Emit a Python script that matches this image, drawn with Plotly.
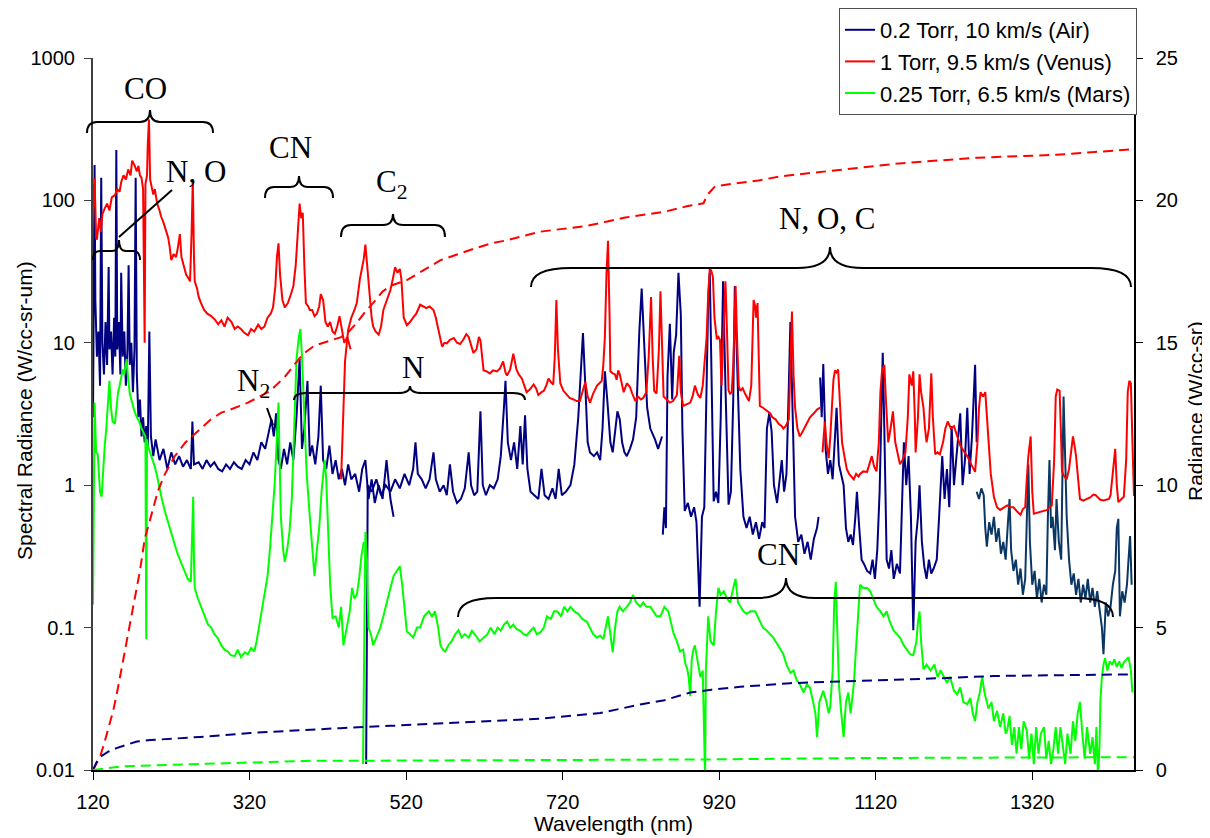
import plotly.graph_objects as go

# ---------------- DATA (wavelength nm, spectral radiance W/cc-sr-um) ----------------
air_seg1 = [(120,3),(121,40),(122,177),(123,20),(125,8),(127,12),(129,5),(130.5,144),(132,10),(134,6),(136,14),
            (138,7),(140,34),(141,9),(143,12),(145,6),(147,15),(148.5,8),(149.8,226),(151,9),(153,14),(155,6),
            (156,31),(158,8),(160,12),(162,5),(164,9),(165.5,35),(167,7),(169,10),(171,4.5),(173,9),(174.5,144),
            (176,6),(178,3),(180,4),(182,2.2),(184,3),(186,2),(188,2.6),(190,1.8),(192,12),(194,2.2),(197,1.6),
            (200,2.1),(205,1.5),(210,1.8),(215,1.3),(220,1.7),(225,1.4),(230,1.6),(235,1.35),(240,1.5),(245,1.3),
            (247,2.8),(249,1.4),(255,1.45),(260,1.3),(265,1.5),(270,1.35),(275,1.45),(280,1.3),(285,1.25),(290,1.4),
            (295,1.3),(300,1.45),(305,1.35),(310,1.3),(315,1.5),(320,1.4),(325,1.7),(330,1.5),(335,2.0),(340,1.8),
            (345,2.4),(348,2.9),(351,2.2),(354,3.2),(357,1.5),(360,1.3),(364,1.8),(368,1.4),(372,2.0),(376,1.5),
            (380,3),(384,7.7),(387,1.8),(390,2.5),(394,5.4),(397,1.6),(400,1.9),(404,1.4),(408,2.2),(411,5),
            (414,1.5),(418,1.3),(422,1.9),(426,1.2),(430,1.5),(434,1.1),(438,1.3),(442,1.0),(446,1.4),(450,1.1),
            (455,1.2),(460,0.9),(464,1.3),(468,1.5),(472,0.8),(476,1.1),(480,0.75),(485,1.0),(490,0.8),(495,1.5),
            (500,0.8),(504,0.6)]
air_seg2 = [(469,0.011),(470,0.3),(471,1.0),(476,0.9),(482,1.1),(488,0.85),(494,1.0),(500,0.9),(506,1.1),(512,0.95),
            (518,1.2),(524,1.0),(529,1.3),(532,2.0),(535,1.2),(540,1.1),(545,0.95),(550,1.1),(555,1.7),(558,1.1),
            (563,0.9),(568,1.0),(572,0.85),(576,1.4),(580,0.9),(585,0.75),(590,0.8),(595,0.95),(600,1.7),(603,1.0),
            (607,0.85),(611,0.9),(615,3.3),(618,1.0),(622,0.85),(627,1.0),(632,0.95),(637,1.1),(641,1.6),(645,3.5),
            (647,5.4),(650,2.0),(654,1.5),(658,2.0),(662,1.3),(666,2.6),(669,1.4),(672,3.1),(675,1.3),(679,0.9),
            (684,0.85),(689,0.8),(693,1.3),(697,0.85),(702,0.8),(707,0.95),(711,0.8),(715,1.3),(719,0.85),(724,0.9),
            (730,1.0),(735,1.4),(740,3.0),(744,8),(746,11.7),(749,5),(752,2.0),(755,1.7),(760,1.6),(764,1.7),
            (768,1.5),(771,2.5),(774,6.3),(777,4),(781,2.0),(784,1.7),(787,2.5),(790,3.3),(793,2.9),(796,2.0),
            (799,1.7),(802,1.6),(806,1.8),(810,2.1),(814,3),(818,12),(821,24),(824,10),(828,3.5),(832,2.5),
            (835,2.3),(838,2.1),(842,1.8),(847,2.2)]
air_seg3 = [(848,0.45),(850,0.7),(852,0.5),(854,5.8),(857,13.6),(860,4),(862,8.6),(865,11.3),(868,31),(871,15.8),
            (873,2.5),(876,0.66),(880,0.75),(884,0.6),(888,0.7),(891,0.55),(895,0.14),(898,0.6),(901,0.7),(904,5),
            (906,20),(908,31),(910,8),(913,0.77),(916,0.9),(919,0.75),(922,3),(925,27),(928,5),(932,0.73),(935,0.9),
            (938,4),(940,25),(943,6),(947,1.3),(951,0.6),(955,0.5),(959,0.6),(963,0.45),(967,0.55),(971,0.42),
            (975,0.55),(978,0.5),(981,2.5),(984,3.2),(987,2.4),(990,1.0),(994,0.75),(997,1.1),(1000,1.5),(1003,0.9),
            (1006,1.2),(1009,5),(1011,14),(1014,3),(1017,0.6),(1021,0.4),(1025,0.45),(1029,0.33),(1033,0.4),
            (1037,0.3),(1041,0.42),(1045,0.5),(1047,0.6)]
air_seg4 = [(1049,5.7),(1051,3),(1053,7.1),(1056,1.8),(1059,1.2),(1062,1.5),(1065,1.1),(1068,2.5),(1070,3.5),(1073,1.4),
            (1076,1.2),(1079,1.0),(1082,0.5),(1085,0.4),(1088,0.45),(1091,0.38),(1094,0.6),(1096,0.9),(1099,0.5),
            (1102,0.3),(1105,0.28),(1109,0.25),(1113,0.24),(1116,0.3),(1119,0.22),(1122,0.35),(1125,0.9),(1127,3),
            (1129,8.5),(1131,2.5),(1134,0.3),(1137,0.26),(1140,0.35),(1143,0.22),(1147,0.28),(1151,0.24),(1154,0.7),
            (1156,2.0),(1159,1.0),(1162,1.6),(1165,0.6),(1168,0.096),(1171,0.4),(1174,0.6),(1176,1.0),(1179,0.4),
            (1182,0.27),(1185,0.22),(1188,0.3),(1191,0.24),(1194,0.26),(1198,0.3),(1201,0.6),(1205,1.6),(1208,0.8),
            (1211,1.3),(1214,0.7),(1217,2.6),(1220,1.0),(1224,1.8),(1228,3.2),(1231,1.0),(1234,1.5),(1237,3.5),
            (1240,1.2),(1243,2.2),(1247,7),(1249,2)]
air_seg5 = [(1249,0.9),(1252,0.8),(1255,0.95),(1258,0.85),(1260,0.5),(1262,0.37),(1265,0.55),(1268,0.45),(1271,0.6),
            (1274,0.4),(1277,0.5),(1280,0.33),(1283,0.4),(1286,0.3),(1289,0.55),(1291,0.8),(1293,0.35),(1296,0.25),
            (1299,0.3),(1302,0.2),(1305,0.26),(1308,0.17),(1311,0.22),(1313,0.5),(1315,1.4),(1317,0.4),(1320,0.2),
            (1323,0.25),(1326,0.16),(1329,0.22),(1332,0.15),(1335,0.2),(1338,0.17),(1340,0.6),(1342,1.5),(1344,0.5),
            (1346,0.6),(1349,0.35),(1351,0.8),(1354,0.4),(1357,0.3),(1360,4.2),(1362,1.5),(1364,0.6),(1367,0.3),
            (1370,0.2),(1373,0.24),(1376,0.17),(1379,0.22),(1382,0.15),(1385,0.2),(1388,0.16),(1391,0.22),(1394,0.15),
            (1397,0.19),(1400,0.14),(1403,0.18),(1406,0.13),(1409,0.1),(1411,0.065),(1414,0.15),(1417,0.12),
            (1420,0.14),(1423,0.2),(1426,0.25),(1428,0.5),(1430,0.58),(1432,0.12),(1435,0.18),(1438,0.15),
            (1441,0.2),(1443,0.3),(1445,0.44),(1447,0.2)]

venus_seg1 = [(120,130),(121,90),(122,143),(123,70),(124,55),(125,53),(126,62),(128,75),(130,60),(132,80),(135,88),
              (138,95),(141,85),(144,105),(148,109),(151,120),(154,115),(156,134),(159,150),(162,140),(165,165),
              (168,150),(170,190),(173,177),(176,160),(178,175),(180,150),(182,144),(184,120),(186,10),(187,130),
              (189,150),(190,250),(191.5,370),(193,140),(195,125),(197,110),(199,120),(202,95),(205,85),(207,77),
              (210,70),(213,62),(216,55),(218,47),(220,38),(223,42),(226,40),(228,45),(231,58),(233,40),(235,36),
              (237,33),(239,30),(241,29),(244,27),(246,60),(247.5,140),(249,40),(250,27),(253,24),(255,21),(258,19),
              (262,17),(266,16),(271,15.4),(276,14.5),(280,13.5),(284,14.4),(288,13),(292,15),(297,14),(301,12.5),
              (305,13),(309,12.5),(313,11.8),(318,11.3),(322,12.5),(326,12),(331,13.4),(335,12.5),(339,13),(343,15),
              (347,16),(350,17.7),(353,25),(355,40),(357,50),(359,30),(362,20),(365,17.7),(369,19),(373,22),(376,25),
              (379,35),(382,60),(384,95),(386,75),(388,82),(390,35),(392,19),(395,18),(397,17),(400,17),(403,15.4),
              (406,16),(409,18),(411,22),(414,20),(417,14),(420,13),(423,14),(426,12),(429,11.6),(432,13),(435,15.4),
              (438,12),(441,10),(445,11),(449,9)]
venus_seg2 = [(437,1.1),(439,2.6),(442,7.4),(446,12.3),(450,15),(454,17),(457,19),(461,28),(464,35),(466,39),(468,49),
              (470,35),(472,25),(474,19),(476,15),(478,13),(481,12),(485,11.4),(488,13),(491,17),(494,19),(497,21),
              (500,23.5),(503,28),(506,34),(509,31),(512,33),(514,28),(517,15),(521,13.3),(525,14),(529,15),(533,16),
              (538,18.5),(542,18),(546,17.5),(550,18),(555,17),(558,15),(561,12.5),(566,9.4),(569,10),(572,9.9),
              (576,10.5),(581,10.8),(585,10),(589,9.8),(593,10.5),(597,11.5),(600,11),(603,9.5),(606,8.5),(610,9),
              (613,11),(615,10.4),(617,8),(619,6.4),(623,6.3),(627,6.1),(631,6.4),(636,6.3),(640,6.6),(644,7.4),
              (647,6.2),(649,5.9),(653,6.5),(657,8.4),(661,6.5),(664,6),(668,5.6),(671,5.0),(674,4.5),(678,4.7),
              (683,5.1),(686,4.8),(689,4.3),(693,4.5),(696,4.6),(699,5.0),(702,5.6),(705,5.3),(708,5.1),(710,8),
              (712,20),(714,9),(717,5.2),(721,4.6),(725,4.3),(729,4.1),(734,4.0),(738,3.9),(742,3.9),(745,4.5),
              (749,5.3),(752,4.2),(755,3.8),(759,4.4),(764,5),(767,5.2),(770,5.4),(772,7),(774,11),(776,30),(778,52),
              (780,15),(781,6.3),(784,6.1),(787,6),(789,5.5),(791,6.4),(793,6.0),(796,5.0),(798,4.5),(802,5.2),
              (806,4.9),(809,4.4),(813,3.9),(816,4.2),(820,4.0),(823,4.1),(827,4.5),(830,8),(833,21),(835,8),
              (837,4.6),(840,4.4),(843,9),(845,23),(847,8),(849,4.2),(853,4.0),(857,3.8),(861,3.9),(866,4.3),
              (869,8.1),(871,4.5),(874,3.6),(878,3.7),(883,3.8),(886,4.2),(889,5.0),(893,4.3),(896,4.1),(899,5),
              (902,8),(904,11),(906,22),(908,33),(910,32),(912,29),(914,15),(917,10.6),(919,11),(921,10.5),(923,5),
              (925,9),(928,27),(930,12),(932,4.6),(934,4.4),(936,4.5),(938,7),(941,25),(943,10),(945,5),(947,4.6),
              (950,4.8),(953,4.4),(956,4.1),(958,3.9),(961,5),(964,20),(966,18),(967,15),(969,19),(971,5),(972,3.6),
              (976,3.5),(981,3.3),(985,3.2),(988,3.0),(992,2.9),(996,2.7),(1000,2.6),(1002,2.5),(1005,2.6),(1009,2.9),
              (1011,7),(1013,16.6),(1015,6),(1017,3.5),(1020,2.5),(1023,2.2),(1027,2.4),(1032,2.7),(1036,3.0),
              (1041,3.2),(1045,3.4),(1049,3.5)]
venus_seg3 = [(1052,1.7),(1054,2.2),(1055,2.8),(1057,2.0),(1060,1.55),(1062,2.2),(1064,3.6),(1066,5.5),(1068,6.4),
              (1070,6.2),(1072,6.5),(1074,4),(1077,2.0),(1080,1.6),(1083,1.3),(1086,1.2),(1089,1.15),(1092,1.1),
              (1095,1.2),(1098,1.15),(1100,1.2),(1104,1.25),(1109,1.24),(1112,1.4),(1115,1.6),(1118,1.35),(1121,1.25),
              (1124,2.0),(1126,4.5),(1128,6.3),(1131,7.0),(1133,4),(1136,2.0),(1139,2.5),(1142,3.3),(1145,2.0),
              (1147,1.8),(1151,1.4),(1154,1.5),(1158,1.7),(1161,3),(1163,6.0),(1166,5),(1168,6.3),(1170,3),(1171,1.7),
              (1174,3),(1176,6.0),(1178,4.5),(1181,3.5),(1183,2.5),(1185,2.0),(1188,2.5),(1191,6.1),(1193,3),
              (1196,1.65),(1199,1.7),(1202,1.65),(1206,2.0),(1209,2.5),(1212,2.8),(1216,2.5),(1220,2.6),(1224,2.2),
              (1228,1.9),(1232,1.75),(1237,1.6),(1242,1.4),(1247,1.24),(1250,2.0),(1252,3.5),(1254,4.5),(1257,4.2),
              (1260,4.5),(1262,3),(1264,1.9),(1267,1.2),(1271,0.83),(1275,0.7),(1279,0.67),(1284,0.7),(1288,0.72),
              (1292,0.7),(1296,0.7),(1301,0.65),(1305,0.62),(1308,0.68),(1311,0.7),(1313,1.1),(1315,1.6),(1318,2.2),
              (1320,0.9),(1322,0.63),(1326,0.64),(1330,0.65),(1335,0.66),(1339,0.67),(1342,0.7),(1345,0.72),
              (1348,1.5),(1350,4.2),(1352,4.7),(1355,4.6),(1357,2),(1358,1.25),(1361,1.15),(1364,1.1),(1367,1.3),
              (1370,1.8),(1372,2.2),(1374,1.9),(1376,1.6),(1378,1.2),(1381,0.8),(1385,0.78),(1390,0.8),(1394,0.82),
              (1398,0.86),(1401,0.85),(1403,0.83),(1407,0.79),(1411,0.78),(1415,0.79),(1418,0.8),(1420,0.85),
              (1423,1.2),(1426,1.8),(1428,1.0),(1430,0.76),(1434,0.8),(1437,0.83),(1440,1.5),(1442,4.5),(1444,5.4),
              (1446,5.2),(1448,2),(1450,0.84)]

mars_seg1 = [(120,0.145),(121,1.5),(122,3.8),(123,2.5),(124,1.7),(126,1.66),(128,1.1),(129,0.9),(131,0.83),(133,1.4),
             (135,1.9),(137,2.5),(139,4),(141,5.4),(143,3.5),(145,2.8),(148,2.7),(150,3.5),(152,4.5),(154,5),(156,5.8),
             (158,6.5),(160,6.0),(163,7.7),(165,5.5),(167,4.4),(169,4.0),(171,3.6),(173,3.3),(176,3.0),(179,2.8),
             (182,2.5),(185,2.3),(187,2.2),(188,0.083),(189,2.1),(190,1.9),(193,1.7),(196,1.5),(199,1.35),(202,1.15),
             (205,0.95),(208,0.8),(212,0.65),(216,0.54),(220,0.45),(224,0.39),(228,0.33),(232,0.29),(236,0.26),
             (241,0.22),(245,0.21),(247,0.5),(248,0.83),(249,0.3),(250,0.19),(254,0.16),(258,0.14),(263,0.117),
             (267,0.105),(271,0.1),(275,0.09),(279,0.085),(284,0.075),(288,0.07),(292,0.068),(296,0.064),(301,0.063),
             (305,0.07),(309,0.062),(314,0.067),(318,0.065),(322,0.072),(326,0.068),(329,0.08),(332,0.1),(335,0.12),
             (339,0.16),(343,0.23),(346,0.35),(350,0.67),(352,1.0),(354,1.66),(356,3.0),(357,3.8),(358,2),(360,0.6),
             (363,0.35),(365,0.29),(368,0.35),(371,0.47),(374,0.8),(377,2.5),(380,7.7),(383,11),(385,12.5),(387,8),
             (390,2.7),(393,1.2),(397,0.6),(400,0.35),(403,0.23),(406,0.35),(409,0.5),(412,0.9),(416,1.5),(418,1.1),
             (420,0.5),(423,0.2),(426,0.117),(430,0.12),(434,0.1),(437,0.14),(440,0.075),(444,0.1),(448,0.13),
             (451,0.19),(454,0.16),(457,0.17),(460,0.22),(463,0.32),(466,0.4)]
mars_seg2 = [(465,0.011),(466.5,0.1),(468,0.47),(470,0.3),(472,0.1),(475,0.09),(478,0.075),(482,0.085),(487,0.1),
             (491,0.12),(495,0.15),(500,0.19),(504,0.23),(508,0.25),(512,0.27),(515,0.2),(517,0.15),(521,0.094),
             (525,0.09),(529,0.085),(534,0.1),(538,0.1),(543,0.12),(549,0.13),(553,0.12),(557,0.13),(561,0.1),
             (564,0.075),(567,0.07),(570,0.068),(574,0.075),(578,0.08),(583,0.09),(587,0.096),(591,0.085),(595,0.09),
             (600,0.085),(604,0.095),(609,0.088),(614,0.08),(619,0.085),(624,0.09),(628,0.1),(633,0.09),(637,0.1),
             (641,0.095),(645,0.105),(649,0.11),(653,0.1),(657,0.105),(661,0.098),(666,0.095),(670,0.09),(674,0.088),
             (679,0.095),(683,0.1),(687,0.09),(691,0.092),(696,0.1),(700,0.12),(705,0.115),(709,0.13),(713,0.13),
             (718,0.12),(722,0.14),(726,0.13),(730,0.14),(735,0.13),(740,0.125),(745,0.115),(751,0.11),(755,0.1),
             (759,0.09),(764,0.085),(768,0.088),(772,0.083),(775,0.1),(778,0.12),(781,0.09),(784,0.067),(787,0.1),
             (790,0.13),(793,0.14),(797,0.13),(802,0.14),(806,0.15),(810,0.17),(814,0.15),(819,0.14),(823,0.15),
             (827,0.14),(832,0.14),(836,0.13),(840,0.12),(845,0.12),(850,0.14),(855,0.13),(858,0.11),(862,0.09),
             (866,0.08),(870,0.068),(874,0.07),(877,0.055),(879,0.052),(881,0.045),(883,0.033),(885,0.06),(887,0.07),
             (889,0.075),(892,0.06),(894,0.05),(896,0.045),(899,0.05),(901,0.02),(902,0.0087),(903,0.05),(905,0.1),
             (906,0.12),(909,0.08),(913,0.075),(916,0.13),(919,0.19),(922,0.17),(926,0.18),(930,0.16),(934,0.15),
             (938,0.19),(941,0.22),(944,0.15),(947,0.14),(951,0.13),(955,0.125),(960,0.13),(966,0.13),(969,0.12),
             (972,0.11),(976,0.1),(981,0.095),(985,0.09),(989,0.085),(994,0.077),(998,0.07),(1002,0.065),(1006,0.055),
             (1011,0.048),(1015,0.05),(1019,0.043),(1023,0.04),(1028,0.035),(1032,0.04),(1036,0.038),(1040,0.03),
             (1043,0.025),(1045,0.017),(1048,0.03),(1053,0.036),(1057,0.03),(1060,0.025),(1062,0.028),(1065,0.05),
             (1067,0.15),(1069,0.21),(1071,0.1),(1073,0.04),(1076,0.025),(1079,0.017),(1082,0.03),(1085,0.035),
             (1088,0.025),(1092,0.04),(1094,0.06),(1096,0.09),(1098,0.15),(1100,0.2),(1104,0.19),(1109,0.19),
             (1113,0.18),(1117,0.16),(1121,0.14),(1126,0.13),(1130,0.12),(1134,0.13),(1138,0.11),(1143,0.095),
             (1147,0.09),(1151,0.085),(1156,0.075),(1160,0.07),(1164,0.065),(1168,0.064),(1172,0.08),(1174,0.11),
             (1176,0.13),(1178,0.08),(1181,0.051),(1185,0.055),(1190,0.05),(1195,0.055),(1199,0.045),(1203,0.05),
             (1207,0.045),(1211,0.041),(1215,0.045),(1220,0.036),(1224,0.034),(1228,0.038),(1232,0.03),(1237,0.029),
             (1241,0.032),(1244,0.025),(1247,0.022),(1250,0.03),(1253,0.035),(1256,0.045),(1259,0.035),(1262,0.03),
             (1264,0.027),(1268,0.03),(1271,0.022),(1275,0.026),(1279,0.02),(1283,0.025),(1286,0.018),(1288,0.019),
             (1291,0.024),(1294,0.015),(1297,0.02),(1300,0.013),(1303,0.02),(1306,0.014),(1309,0.022),(1313,0.019),
             (1316,0.012),(1319,0.018),(1322,0.011),(1325,0.02),(1328,0.013),(1331,0.018),(1335,0.02),(1338,0.012),
             (1341,0.016),(1344,0.011),(1347,0.014),(1350,0.02),(1353,0.013),(1356,0.02),(1359,0.015),(1362,0.011),
             (1365,0.018),(1369,0.013),(1372,0.022),(1375,0.016),(1378,0.025),(1381,0.03),(1384,0.018),(1387,0.012),
             (1390,0.02),(1394,0.013),(1397,0.017),(1400,0.011),(1402,0.02),(1404,0.009),(1406,0.015),(1407,0.03),
             (1409,0.045),(1411,0.055),(1413,0.061),(1416,0.05),(1419,0.058),(1422,0.055),(1425,0.06),(1428,0.053),
             (1431,0.058),(1434,0.052),(1437,0.057),(1440,0.06),(1443,0.062),(1446,0.05),(1448,0.035)]

# cumulative radiance (W/cc-sr), right axis
venus_cum = [(120,0),(125,0.25),(129,0.46),(135,1.0),(140,1.5),(146,2.1),(152,2.9),(158,3.75),(165,4.8),(173,6.0),
             (180,7.0),(186,8.1),(195,9.0),(203,9.8),(212,10.4),(224,11.0),(238,11.5),(254,11.9),(270,12.3),
             (284,12.55),(295,12.65),(318,12.9),(346,13.3),(365,13.8),(377,14.2),(388,14.6),(403,14.9),(420,15.05),
             (437,15.2),(447,15.4),(457,15.7),(468,16.1),(478,16.4),(490,16.8),(500,17.0),(521,17.2),(540,17.5),
             (564,17.9),(585,18.1),(606,18.3),(630,18.5),(649,18.6),(670,18.75),(691,18.9),(720,19.0),(750,19.1),
             (768,19.2),(800,19.4),(850,19.6),(880,19.8),(900,19.9),(905,20.2),(915,20.5),(940,20.6),(970,20.7),
             (1000,20.85),(1050,21.0),(1100,21.15),(1150,21.3),(1200,21.4),(1250,21.5),(1300,21.55),(1350,21.6),
             (1400,21.7),(1450,21.8)]
air_cum = [(120,0),(125,0.3),(129,0.46),(140,0.65),(150,0.77),(165,0.9),(176,1.0),(193,1.05),(257,1.16),(321,1.3),
           (385,1.4),(436,1.47),(500,1.55),(606,1.69),(690,1.8),(768,2.0),(819,2.3),(850,2.45),(870,2.6),(883,2.72),
           (910,2.82),(947,2.92),(1011,3.05),(1050,3.08),(1100,3.12),(1150,3.18),(1200,3.22),(1271,3.3),(1350,3.33),
           (1450,3.36)]
mars_cum = [(120,0),(130,0.04),(140,0.08),(155,0.12),(170,0.14),(250,0.2),(340,0.27),(360,0.29),(390,0.32),
            (500,0.33),(700,0.34),(900,0.37),(1100,0.42),(1250,0.44),(1450,0.45)]

series_names = ["0.2 Torr, 10 km/s (Air)", "1 Torr, 9.5 km/s (Venus)", "0.25 Torr, 6.5 km/s (Mars)"]
x_ticks = [120, 320, 520, 720, 920, 1120, 1320]
y_ticks = [0.01, 0.1, 1, 10, 100, 1000]
y_tick_text = ["0.01", "0.1", "1", "10", "100", "1000"]
y2_ticks = [0, 5, 10, 15, 20, 25]
axis_titles = ["Wavelength (nm)", "Spectral Radiance (W/cc-sr-um)", "Radiance (W/cc-sr)"]

# ---------------- helpers ----------------
def join(*segs):
    xs, ys = [], []
    for i, s in enumerate(segs):
        if i:
            xs.append(None); ys.append(None)
        xs += [p[0] for p in s]
        ys += [p[1] for p in s]
    return xs, ys

NAVY, RED, GREEN, SLATE = "#000080", "#FF0000", "#00FF00", "#0A3764"
SANS = "Liberation Sans, Arial, sans-serif"
SERIF = "Liberation Serif, Times New Roman, serif"

fig = go.Figure()

# cumulative dashed curves (right axis)
for data, col in [(venus_cum, RED), (air_cum, NAVY), (mars_cum, GREEN)]:
    x, y = join(data)
    fig.add_trace(go.Scatter(x=x, y=y, yaxis="y2", mode="lines", showlegend=False, hoverinfo="skip",
                             line=dict(color=col, width=2, dash="10px,6px")))

x, y = join(air_seg1, air_seg2, air_seg3, air_seg4)
fig.add_trace(go.Scatter(x=x, y=y, mode="lines", name=series_names[0], legendgroup="air",
                         line=dict(color=NAVY, width=2), connectgaps=False))
x, y = join(air_seg5)
fig.add_trace(go.Scatter(x=x, y=y, mode="lines", name=series_names[0], legendgroup="air", showlegend=False,
                         line=dict(color=SLATE, width=2)))
x, y = join(venus_seg1, venus_seg2, venus_seg3)
fig.add_trace(go.Scatter(x=x, y=y, mode="lines", name=series_names[1],
                         line=dict(color=RED, width=2), connectgaps=False))
x, y = join(mars_seg1, mars_seg2)
fig.add_trace(go.Scatter(x=x, y=y, mode="lines", name=series_names[2],
                         line=dict(color=GREEN, width=2), connectgaps=False))

# ---------------- annotation geometry (pixel positions in the 1210x838 screenshot) ----------------
# the page body adds an 8px offset, so the figure is 8px smaller and margins are reduced accordingly
PX0, PX1, PY0, PY1 = 93, 1134, 58, 770
def px(v): return (v - PX0) / (PX1 - PX0)
def py(v): return (PY1 - v) / (PY1 - PY0)

def brace(x0, x1, xt, y, drop, rise, r_end, r_tip):
    return (f"M {px(x0)},{py(y+drop)} Q {px(x0)},{py(y)} {px(x0+r_end)},{py(y)} "
            f"L {px(xt-r_tip)},{py(y)} Q {px(xt)},{py(y)} {px(xt)},{py(y-rise)} "
            f"Q {px(xt)},{py(y)} {px(xt+r_tip)},{py(y)} L {px(x1-r_end)},{py(y)} "
            f"Q {px(x1)},{py(y)} {px(x1)},{py(y+drop)}")

braces = [
    (87, 213, 150, 122, 11, 12, 10, 10),     # CO
    (93, 140, 119, 251, 9, 11, 7, 7),        # N, O
    (265, 333, 299, 187, 11, 11, 9, 9),      # CN (upper)
    (341, 445, 393, 225, 12, 11, 10, 10),    # C2
    (294, 525, 410, 393, 7, 7, 12, 12),      # N
    (531, 1131, 830, 268, 19, 21, 40, 33),   # N, O, C
    (458, 1113, 786, 598, 19, 20, 38, 29),   # CN (lower)
]
shapes = [dict(type="path", xref="paper", yref="paper", path=brace(*b),
               line=dict(color="black", width=2)) for b in braces]
for (xa, ya, xb, yb) in [(119, 237, 172, 190), (267, 408, 273, 425)]:
    shapes.append(dict(type="line", xref="paper", yref="paper", x0=px(xa), y0=py(ya), x1=px(xb), y1=py(yb),
                       line=dict(color="black", width=2)))

labels = [("CO", 145, 89), ("N, O", 196, 171), ("CN", 290, 147), ("C<sub>2</sub>", 392, 184),
          ("N<sub>2</sub>", 253, 383), ("N", 413, 367), ("N, O, C", 827, 218), ("CN", 778, 554)]
annotations = [dict(text=t, x=px(a), y=py(b), xref="paper", yref="paper", showarrow=False,
                    xanchor="center", yanchor="middle", font=dict(family=SERIF, size=31, color="black"))
               for t, a, b in labels]
# axis titles
annotations += [
    dict(text=axis_titles[0], x=px(613), y=py(823), xref="paper", yref="paper", showarrow=False,
         xanchor="center", yanchor="middle", font=dict(family=SANS, size=21, color="black")),
    dict(text=axis_titles[1], x=px(24), y=py(411), xref="paper", yref="paper", showarrow=False, textangle=-90,
         xanchor="center", yanchor="middle", font=dict(family=SANS, size=21, color="black")),
    dict(text=axis_titles[2], x=px(1195), y=py(411), xref="paper", yref="paper", showarrow=False, textangle=-90,
         xanchor="center", yanchor="middle", font=dict(family=SANS, size=21, color="black")),
]

fig.update_layout(
    width=1202, height=830,
    margin=dict(l=85, r=76, t=50, b=68, autoexpand=False),
    paper_bgcolor="white", plot_bgcolor="white",
    font=dict(family=SANS, size=20, color="black"),
    shapes=shapes, annotations=annotations,
    legend=dict(x=px(1137), y=py(8), xanchor="right", yanchor="top", bgcolor="white",
                bordercolor="#505050", borderwidth=1, font=dict(family=SANS, size=22, color="black"),
                tracegroupgap=0, itemwidth=30),
    xaxis=dict(range=[120, 1450], tickvals=x_ticks, showgrid=False, zeroline=False, showline=True,
               linecolor="black", linewidth=1.5, ticks="outside", ticklen=8, tickcolor="black",
               tickfont=dict(family=SANS, size=20), automargin=False, ticklabelstandoff=5),
    yaxis=dict(type="log", range=[-2, 3], tickvals=y_ticks, ticktext=y_tick_text, showgrid=False,
               zeroline=False, showline=True, linecolor="#404040", linewidth=2, ticks="outside", ticklen=7,
               tickcolor="#404040", tickfont=dict(family=SANS, size=20), automargin=False, ticklabelstandoff=5),
    yaxis2=dict(overlaying="y", side="right", range=[0, 25], tickvals=y2_ticks, showgrid=False,
                zeroline=False, showline=True, linecolor="black", linewidth=1.5, ticks="outside", ticklen=7,
                tickcolor="black", tickfont=dict(family=SANS, size=20), automargin=False, ticklabelstandoff=9),
)

fig.write_html("out.html")
